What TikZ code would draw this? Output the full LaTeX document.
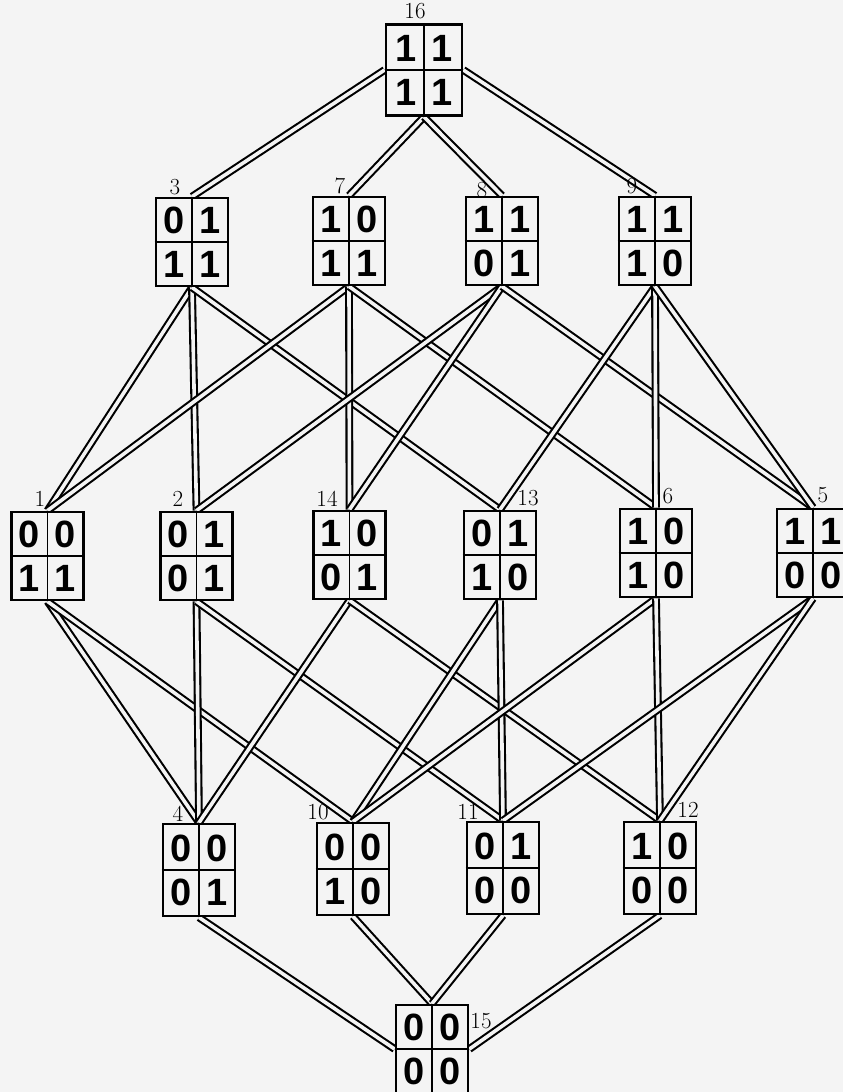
\documentclass[tikz,border=0pt]{standalone}
\usepackage{fontspec}
\newfontfamily\digfont{Liberation Sans}
\definecolor{paper}{gray}{0.955}
\pgfdeclarelayer{edges}
\pgfsetlayers{edges,main}
\tikzset{
  x=1pt, y=-1pt,
  mbox/.style={draw=black, fill=paper, line width=2.8pt, minimum width=72pt, minimum height=88pt, inner sep=0pt},
  bigbox/.style={mbox, minimum width=76pt, minimum height=91pt},
  lowbox/.style={mbox, minimum height=92pt},
  divider/.style={draw=black, line width=1.6pt},
  digit/.style={font=\digfont\bfseries\fontsize{38}{38}\selectfont, inner sep=0pt, text=black},
  lab/.style={font=\fontsize{23}{23}\selectfont, inner sep=0pt, text=black},
  edge/.style={draw=black, line width=2.1pt, double=paper, double distance=3.6pt},
}
\newcommand{\matnode}[8]{%
  \node[#8] (#1) at (#2,#3) {};
  \draw[divider] (#1.north) -- (#1.south) (#1.west) -- (#1.east);
  \node[digit, xshift=-18pt, yshift=22pt] (#1-a) at (#1.center) {#4};
  \node[digit, xshift=18pt, yshift=22pt] (#1-b) at (#1.center) {#5};
  \node[digit, xshift=-18pt, yshift=-22pt] (#1-c) at (#1.center) {#6};
  \node[digit, xshift=18pt, yshift=-22pt] (#1-d) at (#1.center) {#7};
}
\begin{document}
\begin{tikzpicture}
\useasboundingbox (0,0) rectangle (843,1092);
% matrices
\matnode{n16}{424}{70}{1}{1}{1}{1}{bigbox}
\matnode{n3}{192}{242}{0}{1}{1}{1}{mbox}
\matnode{n7}{349}{241}{1}{0}{1}{1}{mbox}
\matnode{n8}{502}{241}{1}{1}{0}{1}{mbox}
\matnode{n9}{655}{241}{1}{1}{1}{0}{mbox}
\matnode{n1}{47.5}{556}{0}{0}{1}{1}{mbox}
\matnode{n2}{196.5}{556}{0}{1}{0}{1}{mbox}
\matnode{n14}{349.5}{555}{1}{0}{0}{1}{mbox}
\matnode{n13}{500}{555}{0}{1}{1}{0}{mbox}
\matnode{n6}{656}{553}{1}{0}{1}{0}{mbox}
\matnode{n5}{813}{553}{1}{1}{0}{0}{mbox}
\matnode{n4}{199}{870}{0}{0}{0}{1}{lowbox}
\matnode{n10}{353}{869}{0}{0}{1}{0}{lowbox}
\matnode{n11}{503}{868}{0}{1}{0}{0}{lowbox}
\matnode{n12}{660}{868}{1}{0}{0}{0}{lowbox}
\matnode{n15}{432}{1049}{0}{0}{0}{0}{mbox}
% labels
\node[lab] (l16) at (415,11) {16};
\node[lab] (l3) at (175,187) {3};
\node[lab] (l7) at (340,186) {7};
\node[lab] (l8) at (482,190) {8};
\node[lab] (l9) at (632,186) {9};
\node[lab] (l1) at (40,499) {1};
\node[lab] (l2) at (178,499) {2};
\node[lab] (l14) at (327,499) {14};
\node[lab] (l13) at (528,498) {13};
\node[lab] (l6) at (668,496) {6};
\node[lab] (l5) at (823,495) {5};
\node[lab] (l4) at (178,814) {4};
\node[lab] (l10) at (318,812) {10};
\node[lab] (l11) at (468,812) {11};
\node[lab] (l12) at (688,810) {12};
\node[lab] (l15) at (481,1021) {15};
% edges
\begin{pgfonlayer}{edges}
\fill[paper] (0,0) rectangle (843,1092);
\draw[edge] (n16.west) -- (n3.north);
\draw[edge] (n16.south) -- (n7.north);
\draw[edge] (n16.south) -- (n8.north);
\draw[edge] (n16.east) -- (n9.north);
\draw[edge] (n3.south) -- (n1.north);
\draw[edge] (n3.south) -- (n2.north);
\draw[edge] (n3.south) -- (n13.north);
\draw[edge] (n7.south) -- (n1.north);
\draw[edge] (n7.south) -- (n14.north);
\draw[edge] (n7.south) -- (n6.north);
\draw[edge] (n8.south) -- (n2.north);
\draw[edge] (n8.south) -- (n14.north);
\draw[edge] (n8.south) -- (n5.north);
\draw[edge] (n9.south) -- (n13.north);
\draw[edge] (n9.south) -- (n6.north);
\draw[edge] (n9.south) -- (n5.north);
\draw[edge] (n1.south) -- (n4.north);
\draw[edge] (n1.south) -- (n10.north);
\draw[edge] (n2.south) -- (n4.north);
\draw[edge] (n2.south) -- (n11.north);
\draw[edge] (n14.south) -- (n4.north);
\draw[edge] (n14.south) -- (n12.north);
\draw[edge] (n13.south) -- (n10.north);
\draw[edge] (n13.south) -- (n11.north);
\draw[edge] (n6.south) -- (n10.north);
\draw[edge] (n6.south) -- (n12.north);
\draw[edge] (n5.south) -- (n11.north);
\draw[edge] (n5.south) -- (n12.north);
\draw[edge] (n4.south) -- (n15.west);
\draw[edge] (n10.south) -- (n15.north);
\draw[edge] (n11.south) -- (n15.north);
\draw[edge] (n12.south) -- (n15.east);
\end{pgfonlayer}
\end{tikzpicture}
\end{document}
